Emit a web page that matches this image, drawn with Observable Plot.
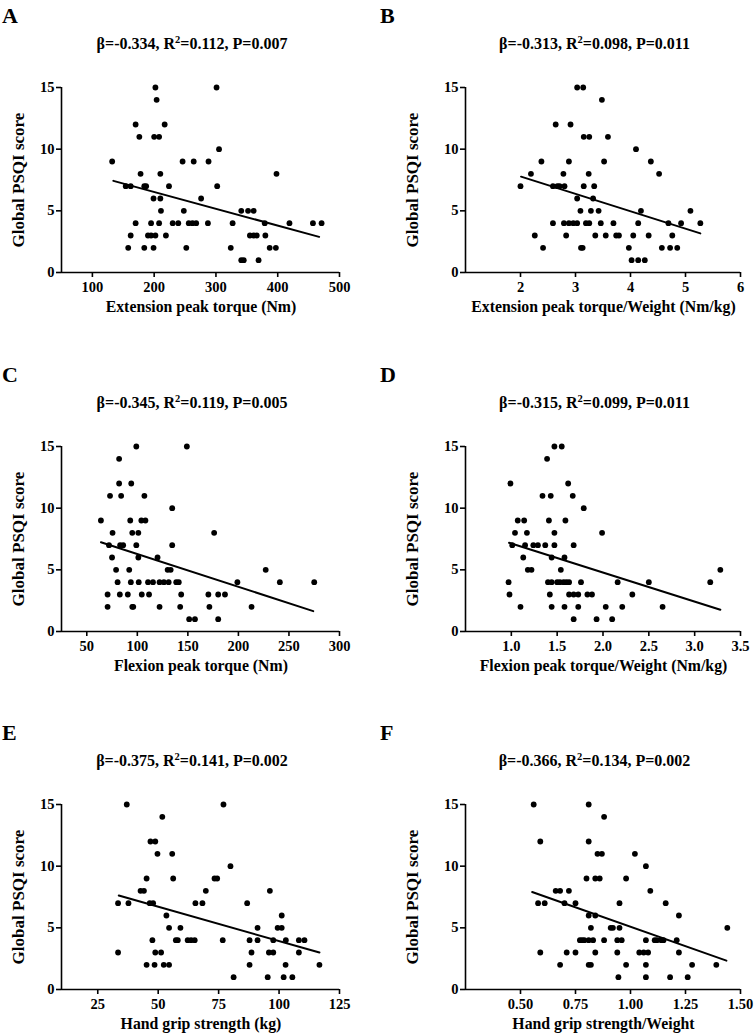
<!DOCTYPE html>
<html><head><meta charset="utf-8">
<script src="https://cdn.jsdelivr.net/npm/d3@7"></script>
<script src="https://cdn.jsdelivr.net/npm/@observablehq/plot@0.6"></script>
<style>
body{margin:0;background:#fff;}
#root{position:relative;width:756px;height:1035px;overflow:hidden;background:#fff}
#root > svg{position:absolute}
</style></head><body><div id="root"></div>
<script>
// ---- data ----
const letters = ["A","B","C","D","E","F"];
const betas = ["-0.334","-0.313","-0.345","-0.315","-0.375","-0.366"];
const r2s = ["0.112","0.098","0.119","0.099","0.141","0.134"];
const pvals = ["0.007","0.011","0.005","0.011","0.002","0.002"];
const xTitles = ["Extension peak torque (Nm)","Extension peak torque/Weight (Nm/kg)","Flexion peak torque (Nm)","Flexion peak torque/Weight (Nm/kg)","Hand grip strength (kg)","Hand grip strength/Weight"];
const yTitle = "Global PSQI score";
const yTicks = [0,5,10,15];
const xDomains = [[50,500],[1,6],[25,300],[0.5,3.5],[10,125],[0.25,1.5]];
const xTicksA = [100,200,300,400,500];
const xTicksB = [2,3,4,5,6];
const xTicksC = [50,100,150,200,250,300];
const xTicksD = [1.0,1.5,2.0,2.5,3.0,3.5];
const xTicksE = [25,50,75,100,125];
const xTicksF = [0.50,0.75,1.00,1.25,1.50];

const ptsA = [[202,15],[301,15],[204,14],[170,12],[217,12],[176,11],[200,11],[208,11],[305,10],
[132,9],[246,9],[264,9],[288,9],[178,8],[210,8],[398,8],[154,7],[162,7],[184,7],[187,7],[224,7],[302,7],
[199,6],[210,6],[276,6],[211,5],[248,5],[341,5],[352,5],[361,5],
[170,4],[195,4],[208,4],[230,4],[239,4],[256,4],[262,4],[268,4],[287,4],[327,4],[379,4],[419,4],[457,4],[471,4],
[162,3],[190,3],[195,3],[202,3],[219,3],[355,3],[361,3],[366,3],[380,3],
[158,2],[184,2],[199,2],[252,2],[324,2],[387,2],[397,2],[341,1],[345,1],[369,1]];
const ptsB = [[3.03,15],[3.14,15],[3.48,14],[2.64,12],[2.91,12],[3.15,11],[3.25,11],[3.59,11],[4.10,10],
[2.38,9],[2.88,9],[3.52,9],[4.37,9],[2.19,8],[2.78,8],[3.24,8],[4.52,8],
[2.00,7],[2.59,7],[2.67,7],[2.71,7],[2.80,7],[3.15,7],[3.34,7],[3.03,6],[3.32,6],
[3.09,5],[3.28,5],[3.42,5],[4.19,5],[5.09,5],
[2.59,4],[2.79,4],[2.88,4],[2.96,4],[3.03,4],[3.19,4],[3.25,4],[3.46,4],[3.69,4],[4.14,4],[4.69,4],[4.92,4],[5.27,4],
[2.26,3],[2.83,3],[3.36,3],[3.55,3],[3.74,3],[3.79,3],[4.05,3],[4.33,3],[4.76,3],
[2.41,2],[3.10,2],[3.13,2],[3.97,2],[4.57,2],[4.72,2],[4.85,2],[4.02,1],[4.14,1],[4.26,1]];
const ptsC = [[99,15],[149,15],[82,14],[82,12],[94,12],[73,11],[84,11],[107,11],[134.5,10],
[64,9],[93,9],[104,9],[108,9],[75.5,8],[95,8],[101,8],[176,8],[72,7],[83,7],[86,7],[99,7],[134.5,7],
[75,6],[101,6],[120,6],[79,5],[92,5],[130,5],[133,5],[227,5],
[80.5,4],[93.6,4],[101.4,4],[110.6,4],[115.5,4],[122,4],[126.3,4],[131,4],[138.5,4],[141,4],[199,4],[241,4],[275,4],
[70.6,3],[82.7,3],[90.6,3],[104.4,3],[111.6,3],[143.4,3],[170.3,3],[180,3],[186.7,3],
[70.6,2],[95,2],[96,2],[122,2],[142.4,2],[171.3,2],[213,2],[151.3,1],[157,1],[180,1]];
const ptsD = [[1.47,15],[1.55,15],[1.39,14],[0.99,12],[1.62,12],[1.34,11],[1.43,11],[1.67,11],[1.79,10],
[1.07,9],[1.14,9],[1.41,9],[1.59,9],[1.04,8],[1.17,8],[1.47,8],[1.99,8],
[1.01,7],[1.15,7],[1.24,7],[1.29,7],[1.37,7],[1.47,7],[1.68,7],[1.13,6],[1.44,6],[1.58,6],
[1.18,5],[1.22,5],[1.54,5],[3.28,5],
[0.97,4],[1.40,4],[1.44,4],[1.50,4],[1.53,4],[1.57,4],[1.60,4],[1.63,4],[1.76,4],[2.16,4],[2.50,4],[3.17,4],
[0.98,3],[1.42,3],[1.63,3],[1.68,3],[1.73,3],[1.83,3],[1.88,3],[2.32,3],
[1.10,2],[1.44,2],[1.58,2],[1.73,2],[2.03,2],[2.21,2],[2.65,2],[1.68,1],[1.93,1],[2.10,1]];
const ptsE = [[37,15],[77,15],[51.7,14],[46.8,12],[48.8,12],[49.7,11],[55.8,11],[79.9,10],
[45.2,9],[56.2,9],[73.3,9],[74.4,9],[42.7,8],[44.1,8],[69.7,8],[96.2,8],
[33.4,7],[37.7,7],[46.5,7],[47.9,7],[65.4,7],[68.3,7],[86.8,7],[53.4,6],[101.1,6],
[54.5,5],[59.2,5],[91.1,5],[99.4,5],[101.1,5],
[47.6,4],[57.3,4],[58.1,4],[62.2,4],[63.6,4],[65.1,4],[76.7,4],[87.8,4],[91.1,4],[97.6,4],[102.8,4],[108.2,4],[110.5,4],
[33.4,3],[48.8,3],[51.2,3],[88.6,3],[95.8,3],[97.6,3],[108.2,3],
[45.2,2],[48.5,2],[52.3,2],[54.5,2],[87.8,2],[102.7,2],[116.7,2],[81.2,1],[95.3,1],[101.9,1],[105.5,1]];
const ptsF = [[0.56,15],[0.81,15],[0.88,14],[0.59,12],[0.81,12],[0.85,11],[0.87,11],[1.02,11],[1.07,10],
[0.80,9],[0.84,9],[0.86,9],[0.98,9],[0.66,8],[0.68,8],[0.72,8],[1.09,8],
[0.58,7],[0.61,7],[0.70,7],[0.75,7],[0.95,7],[1.16,7],[0.81,6],[0.84,6],[1.22,6],
[0.82,5],[0.91,5],[0.92,5],[0.95,5],[1.44,5],
[0.77,4],[0.78,4],[0.79,4],[0.81,4],[0.83,4],[0.88,4],[0.94,4],[0.96,4],[1.07,4],[1.11,4],[1.12,4],[1.14,4],[1.15,4],[1.21,4],
[0.59,3],[0.71,3],[0.75,3],[0.84,3],[0.94,3],[1.04,3],[1.06,3],[1.08,3],[1.22,3],
[0.68,2],[0.81,2],[0.82,2],[0.98,2],[1.07,2],[1.28,2],[1.39,2],[0.945,1],[1.07,1],[1.18,1],[1.26,1]];
const fitA = [[134,7.43],[467,2.89]];
const fitB = [[2.01,7.77],[5.27,3.17]];
const fitC = [[64,7.24],[274,1.65]];
const fitD = [[0.975,7.19],[3.28,1.76]];
const fitE = [[33.7,7.62],[116.7,3.0]];
const fitF = [[0.553,7.9],[1.436,2.34]];

const pts = [ptsA,ptsB,ptsC,ptsD,ptsE,ptsF];
const fits = [fitA,fitB,fitC,fitD,fitE,fitF];
const xTicks = [xTicksA,xTicksB,xTicksC,xTicksD,xTicksE,xTicksF];
const xFormats = [d3.format("d"),d3.format("d"),d3.format("d"),d3.format(".1f"),d3.format("d"),d3.format(".2f")];

// ---- layout ----
const root = document.getElementById("root");
const rowOff = [0, 359, 717];
const FONT = "'Liberation Serif', 'Times New Roman', serif";

for (let i = 0; i < 6; i++) {
  const col = i % 2, row = Math.floor(i / 2);
  const ml = col === 0 ? 61 : 87;
  const mr = col === 0 ? 39 : 16;
  const chart = Plot.plot({
    width: 378, height: 260,
    marginLeft: ml, marginRight: mr, marginTop: 20, marginBottom: 55,
    style: {fontFamily: FONT, fontWeight: "bold", fontSize: "14.5px", background: "transparent", overflow: "visible", color: "black"},
    x: {domain: xDomains[i]},
    y: {domain: [0, 15]},
    marks: [
      Plot.ruleY([0], {strokeWidth: 1.6}),
      Plot.ruleX([xDomains[i][0]], {strokeWidth: 1.6}),
      Plot.axisY({ticks: yTicks, tickSize: 5, tickPadding: 2, strokeWidth: 1.6, label: null}),
      Plot.axisX({ticks: xTicks[i], tickSize: 5, tickPadding: 4, strokeWidth: 1.6, label: null, tickFormat: xFormats[i]}),
      Plot.dot(pts[i], {x: d => d[0], y: d => d[1], r: 2.9, fill: "black", stroke: "none"}),
      Plot.line(fits[i], {x: d => d[0], y: d => d[1], stroke: "black", strokeWidth: 2})
    ]
  });
  chart.style.left = (col * 378) + "px";
  chart.style.top = (rowOff[row] + 67) + "px";
  root.appendChild(chart);
}

// ---- text overlay ----
const svg = d3.select(root).append("svg")
  .attr("width", 756).attr("height", 1035)
  .style("left", "0px").style("top", "0px")
  .attr("font-family", FONT).attr("font-weight", "bold").attr("fill", "black");

for (let i = 0; i < 6; i++) {
  const col = i % 2, row = Math.floor(i / 2);
  const base = rowOff[row];
  const x0 = col * 378;
  const plotL = col === 0 ? 61 : 465;
  const plotR = col === 0 ? 339 : 740;
  const pc = (plotL + plotR) / 2;
  svg.append("text").attr("x", x0 + 2).attr("y", base + 23).attr("font-size", 22).text(letters[i]);
  const t = svg.append("text").attr("x", pc - 8).attr("y", base + 49).attr("font-size", 16).attr("text-anchor", "middle");
  t.append("tspan").text("\u03b2=" + betas[i] + ", R");
  t.append("tspan").attr("font-size", 10.5).attr("dy", -6.5).text("2");
  t.append("tspan").attr("dy", 6.5).text("=" + r2s[i] + ", P=" + pvals[i]);
  svg.append("text").attr("x", pc + 1).attr("y", base + 312).attr("font-size", 15.8).attr("text-anchor", "middle").text(xTitles[i]);
  const yx = col === 0 ? 18 : 412;
  svg.append("text").attr("transform", `translate(${yx},${base + 180}) rotate(-90)`)
    .attr("font-size", 17).attr("text-anchor", "middle").attr("dominant-baseline", "central").text(yTitle);
}
</script></body></html>
